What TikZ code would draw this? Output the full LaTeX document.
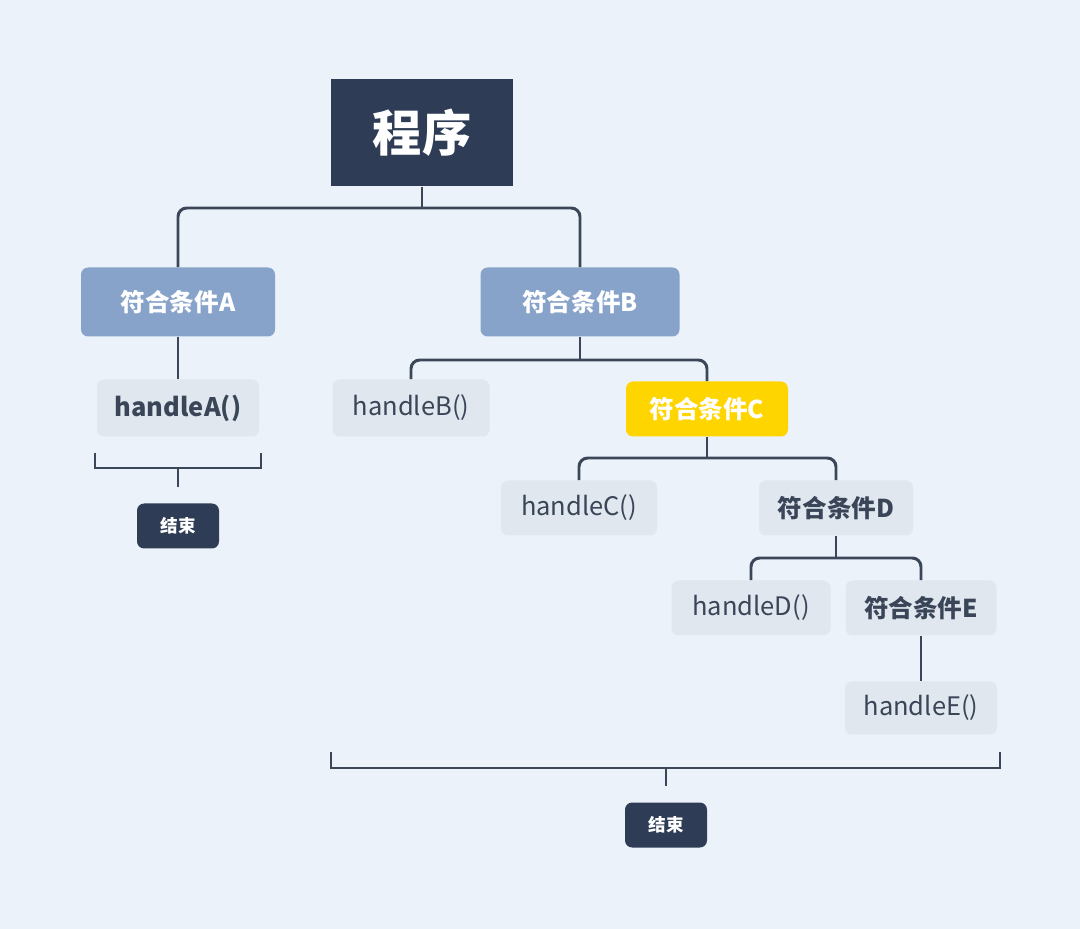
\documentclass[tikz,border=0pt]{standalone}
\usepackage{fontspec}
\setmainfont{Noto Sans CJK SC}
\usetikzlibrary{positioning}
\definecolor{bgcol}{HTML}{EBF2FA}
\definecolor{navy}{HTML}{2E3D55}
\definecolor{bluegray}{HTML}{88A3CA}
\definecolor{lightbox}{HTML}{E0E7EF}
\definecolor{goldbox}{HTML}{FFD500}
\definecolor{linecol}{HTML}{3B4659}
\definecolor{txtcol}{HTML}{3A4558}
\tikzset{
  rootbox/.style={fill=navy,text=white,font=\fontsize{28}{30}\selectfont\bfseries,minimum width=182*0.02cm,minimum height=107*0.02cm},
  condbox/.style={fill=bluegray,text=white,rounded corners=4pt,font=\fontsize{14}{16}\selectfont\bfseries,minimum height=69*0.02cm},
  leafbox/.style={fill=lightbox,text=txtcol,rounded corners=4pt,font=\fontsize{14.5}{16}\selectfont,minimum height=55*0.02cm},
  endbox/.style={fill=navy,text=white,rounded corners=4pt,font=\fontsize{10}{12}\selectfont\bfseries,minimum width=82*0.02cm,minimum height=45*0.02cm},
  conn/.style={linecol,line width=1.7pt,rounded corners=5pt}
}
\begin{document}
\begin{tikzpicture}[x=0.02cm,y=-0.02cm]
\useasboundingbox[fill=bgcol] (0,0) rectangle (1080,929);

\node[rootbox] (root) at (422,133) {程序};
\node[condbox,minimum width=194*0.02cm] (condA) at (178,302) {符合条件A};
\node[condbox,minimum width=199*0.02cm] (condB) at (580,302) {符合条件B};
\node[leafbox,minimum width=162*0.02cm,minimum height=57*0.02cm,font=\fontsize{14.5}{16}\selectfont\bfseries] (hA) at (178,408) {handleA()};
\node[leafbox,minimum width=157*0.02cm,minimum height=57*0.02cm] (hB) at (411,408) {handleB()};
\node[condbox,fill=goldbox,minimum width=162*0.02cm,minimum height=55*0.02cm] (condC) at (707,409) {符合条件C};
\node[leafbox,minimum width=156*0.02cm] (hC) at (579,508) {handleC()};
\node[leafbox,minimum width=154*0.02cm,font=\fontsize{14}{16}\selectfont\bfseries] (condD) at (836,508) {符合条件D};
\node[leafbox,minimum width=159*0.02cm] (hD) at (751,608) {handleD()};
\node[leafbox,minimum width=151*0.02cm,font=\fontsize{14}{16}\selectfont\bfseries] (condE) at (921,608) {符合条件E};
\node[leafbox,minimum width=152*0.02cm,minimum height=53*0.02cm] (hE) at (921,708) {handleE()};
\node[endbox] (endA) at (178,526) {结束};
\node[endbox] (endB) at (666,825) {结束};

% tree connectors
\draw[conn] (root.south) -- (422,208);
\draw[conn] (condA.north) |- (422,208) -| (condB.north);
\draw[conn] (condA.south) -- (hA.north);
\draw[conn] (condB.south) -- (580,360);
\draw[conn] (hB.north) |- (580,360) -| (condC.north);
\draw[conn] (condC.south) -- (707,458);
\draw[conn] (hC.north) |- (707,458) -| (condD.north);
\draw[conn] (condD.south) -- (836,558);
\draw[conn] (hD.north) |- (836,558) -| (condE.north);
\draw[conn] (condE.south) -- (hE.north);

% brackets
\coordinate (brA) at (178,468);
\coordinate (brB) at (666,768);
\draw[linecol,line width=1.7pt] (95,453) -- (95,468) -- (261,468) -- (261,453);
\draw[linecol,line width=1.7pt] (brA) -- (178,487);
\draw[linecol,line width=1.7pt] (331,752) -- (331,768) -- (1000,768) -- (1000,752);
\draw[linecol,line width=1.7pt] (brB) -- (666,786);
\end{tikzpicture}
\end{document}
